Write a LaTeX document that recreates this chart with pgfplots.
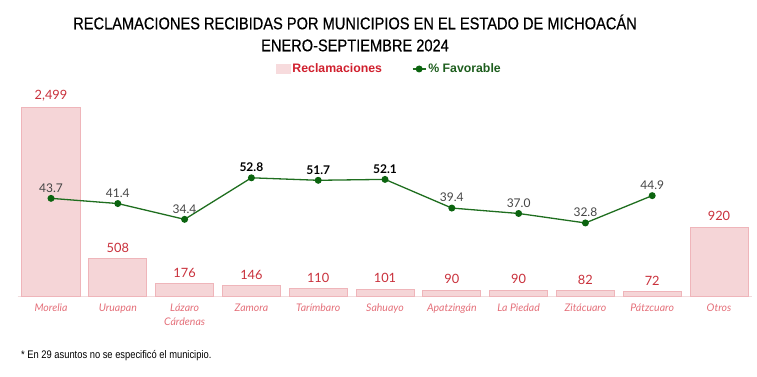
\documentclass[border=0pt]{standalone}
\usepackage{fontspec}
\setmainfont{Lato}
\newfontfamily\titlefont[FakeStretch=0.86, FakeBold=0.4]{Liberation Sans}
\newfontfamily\condfont[FakeStretch=0.85]{Liberation Sans}
\newfontfamily\legfont{Liberation Sans}
\usepackage{pgfplots}
\pgfplotsset{compat=1.18}
\definecolor{barfill}{HTML}{F5D5D7}
\definecolor{bardraw}{HTML}{EFB5BA}
\definecolor{barlabel}{HTML}{C9303B}
\definecolor{catlabel}{HTML}{E46F79}
\definecolor{linegreen}{HTML}{1F6E1F}
\definecolor{markgreen}{HTML}{0B640F}
\definecolor{basecol}{HTML}{F1DCDD}
\definecolor{labgray}{HTML}{454545}
\definecolor{legred}{HTML}{D0202E}
\definecolor{leggreen}{HTML}{1E5E1E}
\begin{document}
\begin{tikzpicture}[x=1pt,y=1pt]
\useasboundingbox (0,0) rectangle (757,377);
\begin{axis}[
  at={(17.6pt,80pt)}, anchor=south west, scale only axis,
  width=734.8pt, height=200pt,
  xmin=-0.5, xmax=10.5, ymin=0, ymax=2640,
  axis y line=none, axis x line*=bottom,
  x axis line style={basecol, line width=1pt, -},
  ybar, bar width=58pt, bar shift=0pt,
  xtick={0,...,10},
  xticklabels={Morelia,Uruapan,{Lázaro\\Cárdenas},Zamora,Tarímbaro,Sahuayo,Apatzingán,La Piedad,Zitácuaro,Pátzcuaro,Otros},
  major tick length=0pt,
  xticklabel style={font=\itshape\fontsize{10.5}{14.5}\selectfont, text=catlabel, align=center, anchor=north, yshift=-3pt},
  nodes near coords={\pgfmathprintnumber[1000 sep={,}]{\pgfplotspointmeta}},
  every node near coord/.append style={font=\fontsize{12.8}{14}\selectfont, text=barlabel, yshift=2.5pt},
  /pgf/number format/assume math mode=true,
  clip=false,
]
\addplot[fill=barfill, draw=bardraw, line width=1pt] coordinates {
  (0,2499) (1,508) (2,176) (3,146) (4,110) (5,101) (6,90) (7,90) (8,82) (9,72) (10,920)};
\end{axis}
\begin{axis}[
  at={(17.6pt,80pt)}, anchor=south west, scale only axis,
  width=734.8pt, height=200pt,
  xmin=-0.5, xmax=10.5, ymin=0, ymax=88.6,
  hide axis, clip=false,
  nodes near coords={\pgfplotspointmeta},
  point meta=explicit symbolic,
  every node near coord/.append style={font=\fontsize{12}{13}\selectfont, text=labgray, yshift=2pt},
  legend style={at={(0.506,1.14)}, anchor=center, legend columns=2, draw=none, fill=none,
    inner sep=0pt, cells={inner sep=1pt},
    /tikz/every even column/.append style={column sep=28pt},
    font=\legfont\bfseries\fontsize{12.3}{13}\selectfont},
]
\addlegendimage{legend image code/.code={\fill[barfill!85!white] (0pt,-4.5pt) rectangle (14pt,4.5pt);}}
\addlegendentry{\textcolor{legred}{Reclamaciones}}
\addplot[linegreen, line width=1.3pt, mark=*, mark size=2.8pt,
  mark options={fill=markgreen, draw=markgreen},
  legend image code/.code={\draw[linegreen, line width=1.3pt] (0pt,0pt) -- (13pt,0pt); \fill[markgreen] (6.5pt,0pt) circle (2.8pt);}] coordinates {
  (0,43.7) [43.7]
  (1,41.4) [41.4]
  (2,34.4) [34.4]
  (3,52.8) [\textbf{\color{black}52.8}]
  (4,51.7) [\textbf{\color{black}51.7}]
  (5,52.1) [\textbf{\color{black}52.1}]
  (6,39.4) [39.4]
  (7,37.0) [37.0]
  (8,32.8) [32.8]
  (9,44.9) [44.9]};
\addlegendentry{\textcolor{leggreen}{\% Favorable}}
\end{axis}
\node[font=\titlefont\fontsize{17}{22}\selectfont, align=center] at (355,344) {RECLAMACIONES RECIBIDAS POR MUNICIPIOS EN EL ESTADO DE MICHOACÁN\\ENERO-SEPTIEMBRE 2024};
\node[anchor=west, font=\condfont\fontsize{11}{12}\selectfont, inner sep=0pt] at (21,21) {* En 29 asuntos no se especificó el municipio.};
\end{tikzpicture}
\end{document}
